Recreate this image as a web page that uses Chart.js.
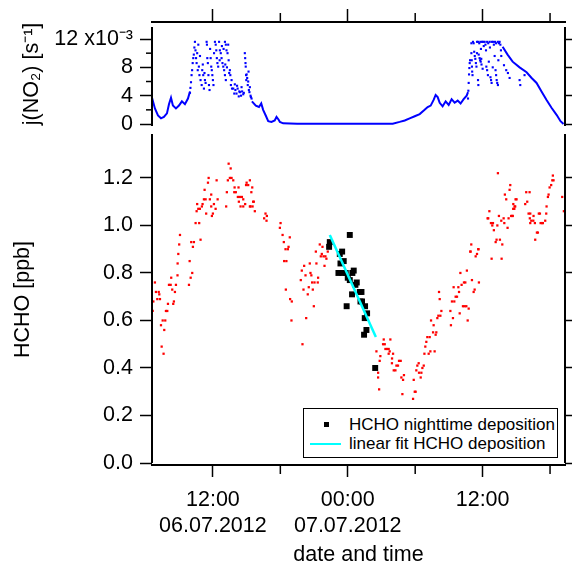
<!DOCTYPE html>
<html>
<head>
<meta charset="utf-8">
<script src="https://cdn.jsdelivr.net/npm/chart.js@4.4.1/dist/chart.umd.min.js"></script>
<style>
  body { margin: 0; background: #fff; }
  #wrap { position: relative; width: 573px; height: 566px; overflow: hidden; font-family: "Liberation Sans", Arial, sans-serif; }
  #jno2 { position: absolute; left: 0; top: 0; }
  #hcho { position: absolute; left: 0; top: 130px; }
  #legend { position: absolute; left: 303px; top: 408px; width: 253px; height: 48px; border: 1.5px solid #000; background: #fff; font-size: 17px; color: #000; }
  #legend .row { position: absolute; left: 0; height: 19px; line-height: 19px; white-space: nowrap; }
  #legend .txt { position: absolute; left: 45px; top: 0; }
  #legend .sym { position: absolute; }
</style>
</head>
<body>
<div id="wrap">
  <canvas id="jno2" width="573" height="130"></canvas>
  <canvas id="hcho" width="573" height="436"></canvas>
  <div id="legend"></div>
</div>
<script>
// Zeit in Stunden ab 06.07.2012 00:00
const timeTickHours = [12, 24, 36];
const timeTickLabels = [['12:00', '06.07.2012'], ['00:00', '07.07.2012'], ['12:00']];
const timeMinorHours = [18, 30, 42];

const jTicks = [0, 0.004, 0.008, 0.012];
const jMinorTicks = [0.002, 0.006, 0.010];
const jRightTicks = [0, 0.002, 0.004, 0.006, 0.008, 0.010, 0.012];
const hchoTicks = [0, 0.2, 0.4, 0.6, 0.8, 1.0, 1.2];

// j(NO2) in 1e-3 s^-1, durchgehende Abschnitte (null = Lücke)
const jNo2Line = [
  [6.58,3.7],[6.84,2.2],[7.11,1.2],[7.38,0.8],[7.64,1.0],[7.91,1.5],[8.09,2.8],[8.27,3.7],[8.44,2.6],
  [8.71,2.2],[8.98,2.6],[9.24,3.2],[9.51,2.8],[9.78,3.6],[9.96,4.6],[12.5,null],
  [15.47,3.2],[15.82,2.6],[16.1,2.4],[16.3,2.9],[16.47,2.0],[16.7,1.2],[16.92,0.4],[17.21,0.3],
  [17.5,0.5],[17.66,1.0],[17.85,0.6],[17.96,0.3],[18.25,0.1],[19.5,0.05],[28.0,0.05],
  [28.62,0.3],[29.07,0.5],[29.51,0.8],[29.96,1.1],[30.4,1.4],[30.84,2.0],[31.11,2.4],[31.38,2.6],
  [31.64,3.4],[31.82,4.1],[32.0,3.8],[32.18,3.0],[32.44,2.5],[32.71,3.2],[32.98,2.7],[33.24,3.5],
  [33.51,3.0],[33.78,3.3],[34.04,2.9],[34.31,3.5],[34.58,4.0],[34.7,4.5],[36.0,null],
  [37.78,10.9],[38.22,9.8],[38.67,8.8],[39.29,8.0],[39.91,7.3],[40.36,6.5],[40.8,5.8],[41.24,4.6],
  [41.69,3.4],[42.13,2.3],[42.58,1.3],[42.93,0.4],[43.2,0.0]
];

// j(NO2) in 1e-3 s^-1, verstreute Werte um Mittag
const jNo2Dots = [
  [9.96,4.4],[10.0,5.1],[10.05,5.9],[10.1,6.9],[10.15,7.6],[10.2,8.6],[10.25,9.3],
  [10.4,11.6],[10.45,10.4],[10.5,9.3],[10.55,8.6],[10.6,10.0],[10.65,7.6],[10.7,11.2],[10.75,8.1],[10.8,6.9],
  [10.9,6.2],[11.0,5.5],[11.05,7.6],[11.14,6.9],[11.2,5.0],[11.29,6.2],
  [11.44,11.6],[11.47,11.2],[11.5,9.3],[11.55,8.6],[11.6,6.9],[11.65,5.5],[11.7,4.8],
  [11.8,9.3],[11.85,8.1],[11.9,7.6],[11.95,6.9],[12.0,6.2],[12.05,5.5],
  [12.18,11.6],[12.25,11.2],[12.3,10.4],[12.35,9.3],[12.4,8.6],[12.47,8.1],
  [12.62,10.4],[12.7,10.0],[12.77,9.3],[12.85,8.6],[12.92,8.1],[13.0,7.6],[13.07,6.9],[13.15,6.2],
  [13.07,11.6],[13.15,11.2],[13.21,10.4],[13.3,10.0],[13.36,11.2],
  [13.51,7.6],[13.55,6.9],[13.6,5.5],[13.66,6.2],[13.7,5.0],
  [13.81,5.0],[13.9,4.3],[14.0,4.8],[14.1,4.3],[14.2,5.0],[14.3,3.9],[14.4,4.5],[14.5,4.0],[14.6,4.6],[14.7,4.2],
  [14.84,10.0],[14.87,9.3],[14.9,8.6],[14.92,8.1],[14.95,6.9],[14.97,6.2],
  [15.0,7.0],[15.05,6.5],[15.1,5.5],[15.14,6.0],[15.2,4.8],[15.29,5.2],[15.35,4.0],[15.44,3.6],
  [10.3,9.8],[10.35,10.8],[10.85,9.6],[11.1,8.4],[11.25,7.2],[11.35,5.8],[11.75,10.6],[12.1,10.0],
  [12.55,11.6],[12.6,9.0],[12.8,11.0],[12.95,10.6],[13.1,8.4],[13.25,8.0],[13.4,9.0],[13.45,7.2],
  [13.95,5.6],[14.15,5.4],[14.35,4.6],[14.55,5.2],[14.75,4.4],[15.17,7.4],[15.25,4.5],[15.38,3.8],
  [34.7,3.6],[34.73,4.7],[34.76,5.8],[34.79,7.0],[34.82,7.9],[34.85,8.6],[34.88,9.0],
  [35.0,11.4],[35.0,10.0],[35.03,9.0],[35.05,8.1],[35.07,7.4],[35.1,6.9],
  [35.14,11.6],[35.2,11.4],[35.25,10.2],[35.3,9.6],[35.35,9.2],[35.4,8.6],[35.45,8.1],
  [35.59,6.2],[35.62,5.5],
  [35.73,9.3],[35.78,9.0],[35.83,8.8],[35.88,9.2],[35.8,11.6],[35.85,10.6],
  [36.18,11.6],[36.25,11.2],[36.3,10.4],[36.33,8.1],[36.4,7.6],[36.47,6.9],
  [36.62,11.6],[36.65,10.8],[36.7,6.6],[36.75,6.2],[36.8,5.8],
  [36.92,11.6],[37.0,11.2],[37.07,9.6],[37.15,7.6],[37.2,6.9],[37.25,6.2],[37.3,5.8],[37.36,5.5],
  [37.51,11.6],[37.58,11.2],[37.63,10.4],[37.66,9.6],
  [37.9,8.3],[38.1,7.6],[38.25,7.2],[38.4,6.5],
  [39.29,6.2],[39.35,5.5],[39.73,6.9],
  [35.5,11.6],[35.6,11.6],[35.7,11.4],[35.95,11.6],[36.05,11.6],[36.1,11.0],[36.4,11.6],[36.5,11.4],
  [36.8,11.6],[37.1,11.6],[37.2,11.4],[37.35,11.6],[37.45,11.4],[35.9,8.4],[36.0,7.8],[36.55,8.8],
  [36.9,8.0],[37.4,9.0],[35.5,10.0],[35.65,9.8]
];

// HCHO [ppb]
const hchoPoints = [
  [13.40,1.26],[13.58,1.24],[11.62,1.20],[11.56,1.18],[12.33,1.19],[13.33,1.19],[13.51,1.20],[13.66,1.20],[13.81,1.19],
  [11.26,1.15],[11.85,1.13],[11.20,1.11],[11.35,1.11],[11.73,1.11],[12.42,1.11],[13.24,1.14],[13.90,1.14],[14.04,1.14],
  [13.93,1.16],[14.28,1.16],[15.00,1.18],[14.95,1.17],[15.14,1.17],[15.29,1.19],[15.50,1.16],[15.42,1.14],[14.22,1.12],
  [14.40,1.12],[14.58,1.12],[14.70,1.11],[14.31,1.10],[14.46,1.08],[14.87,1.09],[15.35,1.08],[15.53,1.08],[15.64,1.10],
  [15.73,1.06],[10.60,1.09],[11.02,1.08],[11.08,1.09],[10.70,1.07],[10.84,1.07],[10.55,1.06],[11.40,1.05],[11.91,1.04],
  [12.00,1.05],[12.09,1.09],[11.85,1.08],[12.24,1.07],[13.18,1.08],[10.46,1.01],[10.78,1.01],[9.07,0.96],[10.90,0.94],
  [9.00,0.92],[10.07,0.93],[10.31,0.93],[10.22,0.91],[8.92,0.88],[9.93,0.85],[8.86,0.84],[10.16,0.80],[8.85,0.79],
  [8.29,0.78],[10.02,0.78],[6.84,0.76],[8.09,0.75],[8.24,0.75],[8.71,0.75],[9.87,0.75],[6.93,0.72],[7.18,0.72],
  [8.38,0.73],[8.62,0.72],[7.23,0.71],[6.70,0.68],[7.05,0.69],[7.29,0.69],[8.00,0.67],[8.47,0.67],[8.53,0.68],
  [6.64,0.64],[6.55,0.64],[7.82,0.64],[7.94,0.64],[7.53,0.60],[7.76,0.60],[7.38,0.58],[7.67,0.56],[7.44,0.49],[7.61,0.46],
  [16.68,1.05],[16.56,1.03],[16.80,1.04],[16.77,1.02],[18.02,1.01],[17.96,0.99],[18.20,0.96],[18.84,0.95],[18.31,0.93],
  [18.73,0.91],[18.46,0.90],[18.67,0.90],[18.34,0.85],[18.54,0.85],[18.49,0.73],[18.87,0.69],[19.02,0.68],[18.99,0.60],
  [19.97,0.50],[14.70,1.08],[15.29,1.08],[15.58,1.10],
  [21.51,0.92],[21.75,0.91],[21.16,0.89],[22.22,0.89],[21.69,0.88],[21.60,0.87],[21.84,0.87],[22.01,0.87],[22.10,0.86],
  [20.62,0.84],[21.21,0.84],[21.93,0.83],[20.12,0.83],[19.91,0.81],[20.68,0.80],[20.76,0.79],[20.24,0.79],[21.36,0.78],
  [19.82,0.77],[20.83,0.76],[21.04,0.76],[21.33,0.76],[20.53,0.74],[20.89,0.73],[20.06,0.73],[20.44,0.71],[20.98,0.66],
  [20.30,0.61],[26.55,0.47],[26.70,0.38],[26.70,0.36],
  [27.20,0.52],[27.14,0.50],[27.29,0.50],[27.79,0.52],[27.35,0.48],[27.50,0.48],[27.64,0.48],[27.73,0.47],[26.90,0.45],
  [27.64,0.46],[28.03,0.46],[26.84,0.43],[27.94,0.44],[28.56,0.43],[28.71,0.43],[27.93,0.42],[28.33,0.41],[28.47,0.41],
  [28.09,0.39],[28.24,0.39],[28.77,0.36],[29.00,0.37],[28.92,0.35],[26.79,0.31],[28.86,0.29],[29.81,0.27],[29.96,0.30],
  [30.04,0.30],[29.87,0.35],[30.10,0.39],[30.34,0.38],[30.55,0.38],[30.19,0.41],[30.31,0.42],[30.49,0.36],[30.64,0.40],
  [30.76,0.41],[30.82,0.46],[31.20,0.46],[31.35,0.47],[31.73,0.47],[30.90,0.49],[30.99,0.51],[31.08,0.53],[31.29,0.53],
  [31.59,0.55],[31.82,0.54],[31.88,0.55],[31.41,0.60],[31.64,0.58],[31.97,0.61],[32.06,0.62],[32.24,0.62],[32.33,0.64],
  [32.12,0.72],[32.18,0.69],[33.13,0.64],[33.36,0.61],[33.18,0.58],[33.27,0.68],[33.48,0.68],[33.42,0.74],[33.84,0.74],
  [33.60,0.70],[33.72,0.70],[33.90,0.72],[34.13,0.75],[34.34,0.76],[34.46,0.76],[34.02,0.80],[34.60,0.81],[34.25,0.66],
  [34.40,0.66],[34.55,0.66],[33.96,0.63],[34.76,0.65],[34.67,0.60],[34.90,0.89],[34.99,0.92],[35.38,0.87],[35.50,0.88],
  [35.62,0.90],[35.05,0.77],[35.20,0.72],[35.29,0.73],[35.67,0.76],
  [37.36,1.22],[38.46,1.17],[38.40,1.15],[37.98,1.13],[38.10,1.11],[38.93,1.11],[38.73,1.09],[38.90,1.08],[38.82,1.07],
  [36.60,1.06],[36.50,1.03],[36.44,1.03],[37.45,1.04],[37.87,1.03],[38.31,1.03],[38.64,1.04],[37.66,1.02],[36.74,1.01],
  [36.92,1.01],[37.31,1.00],[37.93,1.01],[36.86,1.00],[38.22,0.99],[37.00,0.98],[37.24,0.94],[37.54,0.94],[37.16,0.93],
  [37.75,0.92],[36.80,0.86],[37.69,0.86],[34.93,0.89],[35.62,0.90],
  [39.88,1.14],[40.18,1.14],[39.79,1.09],[39.97,1.10],[40.09,1.05],[40.24,1.05],[40.20,1.03],[40.33,1.02],[40.51,1.02],
  [40.53,1.04],[40.24,1.01],[40.65,1.01],[41.00,1.05],[41.10,1.05],[40.92,0.97],[40.83,0.97],[40.68,0.94],[41.16,1.01],
  [41.30,1.01],[41.36,1.01],[41.57,1.02],[41.66,1.05],[41.69,1.08],[41.81,1.12],[41.87,1.13],[41.96,1.16],[42.10,1.17],
  [42.20,1.19],[42.31,1.19],[42.25,1.21],[43.08,1.12],[43.23,1.06],
  [39.02,1.11],[38.84,1.08],[38.72,1.07],[38.54,1.04],[38.68,1.04]
];

const hchoNight = [
  [24.18,0.96],[22.40,0.93],[22.34,0.91],[23.50,0.89],[23.29,0.88],[23.64,0.85],[23.35,0.84],[24.53,0.81],[24.41,0.80],
  [23.17,0.80],[23.52,0.80],[23.82,0.80],[24.00,0.78],[24.18,0.77],[24.80,0.76],[24.68,0.75],[25.07,0.72],[25.22,0.72],
  [24.38,0.71],[25.27,0.68],[25.13,0.68],[23.90,0.66],[25.54,0.66],[25.72,0.63],[25.51,0.61],[25.66,0.56],[25.45,0.54],
  [26.44,0.40]
];

const hchoFit = [[22.40,0.96],[26.50,0.53]];

Chart.defaults.color = '#000';
Chart.defaults.font.family = '"Liberation Sans", Arial, sans-serif';
Chart.defaults.font.size = 21.5;

function toXY(rows, factor = 1) {
  return rows.map(([x, y]) => ({ x, y: y === null ? null : y * factor }));
}

function setTicks(values) {
  return scale => { scale.ticks = values.map(value => ({ value })); };
}

// feste Achsenbreite/-höhe, ohne automatische Randabstände
function fixSize(prop, size) {
  return s => {
    s[prop] = size;
    s.paddingTop = s.paddingBottom = s.paddingLeft = s.paddingRight = 0;
  };
}

function grid(len) {
  return { drawOnChartArea: false, drawTicks: true, tickLength: len, tickColor: '#000', tickWidth: 1.5 };
}

// kurze Zwischenstriche und die senkrechten Achsenlinien
function axisExtras(minor, spine) {
  return {
    id: 'axisExtras',
    afterDraw(chart) {
      const { ctx, chartArea, scales } = chart;
      ctx.save();
      ctx.strokeStyle = '#000';
      ctx.lineWidth = 1.5;
      minor.forEach(m => {
        const s = scales[m.axis];
        m.values.forEach(v => {
          const p = s.getPixelForValue(v);
          ctx.beginPath();
          if (s.isHorizontal()) {
            const y0 = s.position === 'top' ? s.bottom : s.top;
            ctx.moveTo(p, y0);
            ctx.lineTo(p, y0 + (s.position === 'top' ? -m.length : m.length));
          } else {
            const x0 = s.position === 'left' ? s.right : s.left;
            ctx.moveTo(x0, p);
            ctx.lineTo(x0 + (s.position === 'left' ? -m.length : m.length), p);
          }
          ctx.stroke();
        });
      });
      const top = scales.y.getPixelForValue(spine.from);
      const bottom = spine.to === null ? chartArea.bottom : scales.y.getPixelForValue(spine.to);
      ctx.lineWidth = 2;
      [chartArea.left, chartArea.right].forEach(x => {
        ctx.beginPath();
        ctx.moveTo(x, top);
        ctx.lineTo(x, bottom);
        ctx.stroke();
      });
      ctx.restore();
    }
  };
}

const xRange = { min: 6.58, max: 43.33 };

// oberes Diagramm: j(NO2)
new Chart(document.getElementById('jno2'), {
  type: 'scatter',
  data: {
    datasets: [
      { data: toXY(jNo2Line, 1e-3), showLine: true, spanGaps: false, borderColor: '#0000ff', borderWidth: 2, pointRadius: 0 },
      { data: toXY(jNo2Dots, 1e-3), backgroundColor: '#0000ff', borderWidth: 0, pointStyle: 'rect', pointRadius: 1.5 }
    ]
  },
  options: {
    responsive: false,
    animation: false,
    layout: { autoPadding: false, padding: { top: 0, bottom: 4, left: 0, right: 0 } },
    plugins: { legend: { display: false }, tooltip: { enabled: false } },
    scales: {
      x: {
        type: 'linear', position: 'top', ...xRange,
        afterBuildTicks: setTicks(timeTickHours),
        afterFit: fixSize('height', 22),
        ticks: { autoSkip: false, callback: () => '' },
        grid: grid(13),
        border: { color: '#000', width: 2 }
      },
      y: {
        position: 'left', min: -0.00028, max: 0.0144,
        afterBuildTicks: setTicks(jTicks),
        afterFit: fixSize('width', 152),
        ticks: { padding: 7, callback: v => { const n = Math.round(v * 1000); return n === 12 ? '12 x10⁻³' : String(n); } },
        grid: grid(12),
        border: { display: false },
        title: { display: true, text: 'j(NO₂) [s⁻¹]', padding: { top: 19, bottom: 0 } }
      },
      yR: {
        position: 'right', min: -0.00028, max: 0.0144,
        afterBuildTicks: setTicks(jRightTicks),
        afterFit: fixSize('width', 8),
        ticks: { callback: () => '' },
        grid: grid(7),
        border: { display: false }
      }
    }
  },
  plugins: [axisExtras([
    { axis: 'x', values: timeMinorHours, length: 9 },
    { axis: 'y', values: jMinorTicks, length: 6 }
  ], { from: 0.0137, to: null })]
});

// unteres Diagramm: HCHO
const hchoChart = new Chart(document.getElementById('hcho'), {
  type: 'scatter',
  data: {
    datasets: [
      { label: 'HCHO', data: toXY(hchoPoints), order: 3, backgroundColor: '#ff0000', borderWidth: 0, pointStyle: 'rect', pointRadius: 1.6 },
      { label: 'HCHO nighttime deposition', data: toXY(hchoNight), order: 2, backgroundColor: '#000', borderWidth: 0, pointStyle: 'rect', pointRadius: 4.2 },
      { label: 'linear fit HCHO deposition', data: toXY(hchoFit), order: 1, showLine: true, borderColor: '#00ffff', borderWidth: 2.5, pointRadius: 0 }
    ]
  },
  options: {
    responsive: false,
    animation: false,
    layout: { autoPadding: false, padding: { top: 4, bottom: 0, left: 0, right: 0 } },
    plugins: { legend: { display: false }, tooltip: { enabled: false } },
    scales: {
      x: {
        type: 'linear', position: 'bottom', ...xRange,
        afterBuildTicks: setTicks(timeTickHours),
        afterFit: fixSize('height', 101),
        ticks: {
          autoSkip: false, maxRotation: 0, padding: 11,
          font: { lineHeight: 1.17 },
          callback: v => timeTickLabels[timeTickHours.indexOf(v)]
        },
        grid: grid(12),
        border: { color: '#000', width: 2 },
        title: { display: true, text: 'date and time', font: { lineHeight: 1 }, padding: { top: 0, bottom: 0 } }
      },
      y: {
        position: 'left', min: -0.0084, max: 1.385,
        afterBuildTicks: setTicks(hchoTicks),
        afterFit: fixSize('width', 152),
        ticks: { padding: 7, callback: v => v.toFixed(1) },
        grid: grid(12),
        border: { display: false },
        title: { display: true, text: 'HCHO [ppb]', padding: { top: 10, bottom: 0 } }
      },
      yR: {
        position: 'right', min: -0.0084, max: 1.385,
        afterBuildTicks: setTicks(hchoTicks),
        afterFit: fixSize('width', 8),
        ticks: { callback: () => '' },
        grid: grid(7),
        border: { display: false }
      }
    }
  },
  plugins: [axisExtras([{ axis: 'x', values: timeMinorHours, length: 9 }], { from: 1.385, to: 0 })]
});

// Legende im Diagramm (unten rechts)
const legend = document.getElementById('legend');
hchoChart.data.datasets.slice(1).forEach((ds, i) => {
  const row = document.createElement('div');
  row.className = 'row';
  row.style.top = (6 + i * 19) + 'px';
  row.style.width = '253px';
  const sym = document.createElement('span');
  sym.className = 'sym';
  if (ds.showLine) {
    Object.assign(sym.style, { left: '6px', top: '9px', width: '31px', height: '2px', background: ds.borderColor });
  } else {
    Object.assign(sym.style, { left: '20px', top: '7px', width: '5px', height: '5px', background: ds.backgroundColor });
  }
  const txt = document.createElement('span');
  txt.className = 'txt';
  txt.textContent = ds.label;
  row.append(sym, txt);
  legend.appendChild(row);
});
</script>
</body>
</html>
